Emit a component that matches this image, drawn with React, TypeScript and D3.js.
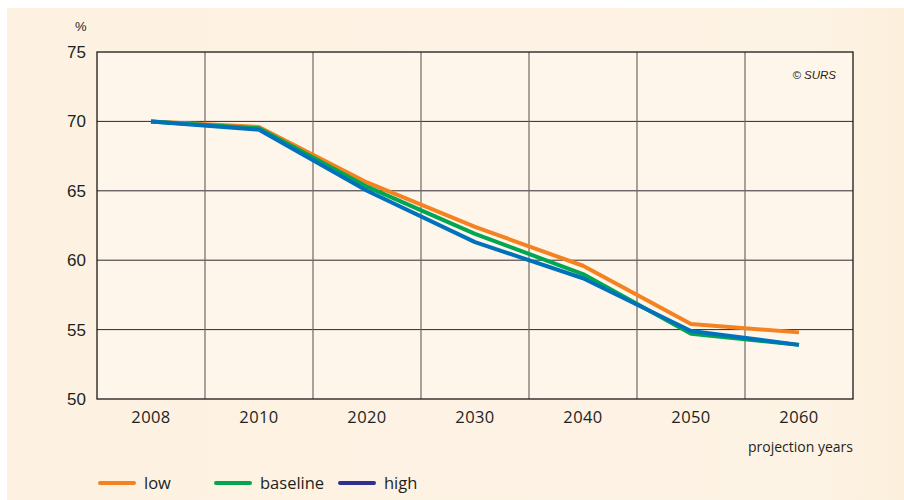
import React from "react";
import * as d3 from "d3";

const categories = ["2008", "2010", "2020", "2030", "2040", "2050", "2060"];
const lowValues = [70.0, 69.6, 65.6, 62.4, 59.6, 55.4, 54.8];
const baselineValues = [70.0, 69.5, 65.3, 61.9, 59.0, 54.7, 53.9];
const highValues = [70.0, 69.4, 65.0, 61.3, 58.7, 54.9, 53.9];
const yTicks = [50, 55, 60, 65, 70, 75];

const seriesList = [
  { name: "low", values: lowValues, color: "#f58220", legendColor: "#f58220" },
  { name: "baseline", values: baselineValues, color: "#00a651", legendColor: "#00a651" },
  { name: "high", values: highValues, color: "#0072bc", legendColor: "#2e3192" },
];

export default function App() {
  const W = 904, H = 500;
  const left = 97, right = 853, top = 52, bottom = 399;
  const x = d3.scaleBand<string>().domain(categories).range([left, right]);
  const y = d3.scaleLinear().domain([50, 75]).range([bottom, top]);
  const line = d3
    .line<number>()
    .x((_, i) => (x(categories[i]) as number) + x.bandwidth() / 2)
    .y((d) => y(d));
  const legendX = [100, 216, 340];
  return (
    <svg
      width={W}
      height={H}
      style={{ position: "absolute", left: 0, top: 0, background: "#ffffff" }}
    >
      <defs>
        <linearGradient id="bg" x1="0" x2="1" y1="0" y2="0">
          <stop offset="0" stopColor="#fdf2e2" />
          <stop offset="0.9" stopColor="#fdf3e4" />
          <stop offset="1" stopColor="#fcefdc" />
        </linearGradient>
      </defs>
      <rect x={7} y={8} width={W - 7} height={H - 8} fill="url(#bg)" />
      <rect x={left} y={top} width={right - left} height={bottom - top} fill="#fef6ea" />
      {yTicks.slice(1, -1).map((t) => (
        <line key={t} x1={left} x2={right} y1={y(t)} y2={y(t)} stroke="#2b2b2b" strokeWidth={1} />
      ))}
      {categories.slice(1).map((c) => (
        <line
          key={c}
          x1={x(c) as number}
          x2={x(c) as number}
          y1={top}
          y2={bottom}
          stroke="#6e6a66"
          strokeWidth={1.2}
        />
      ))}
      <rect x={left} y={top} width={right - left} height={bottom - top} fill="none" stroke="#1a1a1a" strokeWidth={1.3} />
      {yTicks.map((t) => (
        <text
          key={t}
          x={86}
          y={y(t)}
          dy="0.35em"
          textAnchor="end"
          fontFamily="Liberation Sans, Arial, sans-serif"
          fontSize={17}
          fill="#231f20"
        >
          {t}
        </text>
      ))}
      <text x={75} y={31} fontFamily="Liberation Sans, Arial, sans-serif" fontSize={13} fill="#231f20">
        %
      </text>
      {categories.map((c) => (
        <text
          key={c}
          x={(x(c) as number) + x.bandwidth() / 2}
          y={423}
          textAnchor="middle"
          fontFamily="Open Sans, sans-serif"
          fontSize={16.5}
          letterSpacing={0.4}
          fill="#231f20"
        >
          {c}
        </text>
      ))}
      <text
        x={right}
        y={452}
        textAnchor="end"
        fontFamily="Open Sans, sans-serif"
        fontSize={14}
        fill="#231f20"
      >
        projection years
      </text>
      <text
        x={836}
        y={79}
        textAnchor="end"
        fontFamily="Liberation Sans, Arial, sans-serif"
        fontStyle="italic"
        fontSize={11.5}
        fill="#231f20"
      >
        © SURS
      </text>
      {seriesList.map((s) => (
        <path
          key={s.name}
          d={line(s.values) || ""}
          fill="none"
          stroke={s.color}
          strokeWidth={4}
          strokeLinejoin="round"
        />
      ))}
      {seriesList.map((s, i) => (
        <g key={s.name}>
          <line
            x1={legendX[i]}
            x2={legendX[i] + 34}
            y1={483}
            y2={483}
            stroke={s.legendColor}
            strokeWidth={4}
            strokeLinecap="round"
          />
          <text
            x={legendX[i] + 44}
            y={489}
            fontFamily="Open Sans, sans-serif"
            fontSize={16.5}
            fill="#231f20"
          >
            {s.name}
          </text>
        </g>
      ))}
    </svg>
  );
}
